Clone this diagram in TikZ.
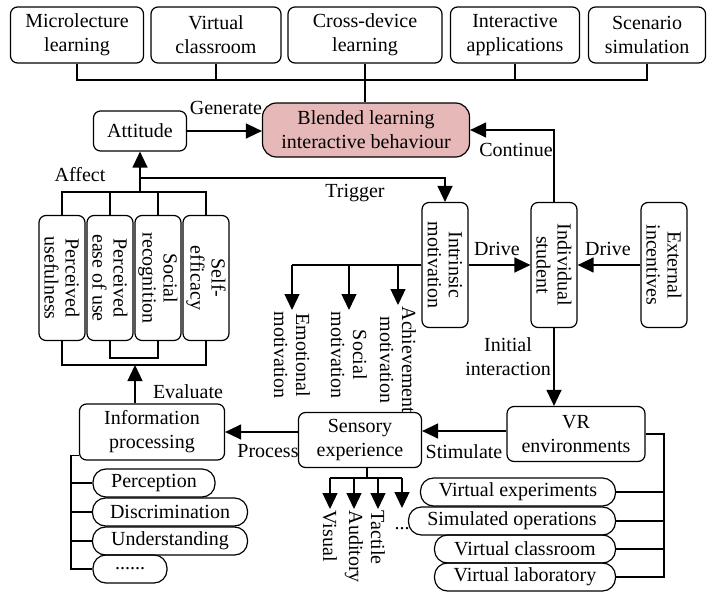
\documentclass[tikz,border=0pt]{standalone}
\usepackage{fontspec}
\setmainfont{Liberation Serif}
\usetikzlibrary{arrows.meta}
\definecolor{blendpink}{HTML}{E6B9B8}
\tikzset{
  box/.style={draw, rounded corners=7pt, line width=1.2pt, align=center, inner sep=1.5pt},
  topbox/.style={box, minimum height=56pt},
  vbox/.style={box, rotate=-90, minimum width=125pt, minimum height=46pt, font=\fontsize{20}{21}\selectfont},
  pill/.style={draw, rounded corners=13pt, line width=1.2pt, inner sep=0pt, minimum height=28pt},
  arr/.style={-{Triangle[length=16pt,width=15pt]}},
  lbl/.style={inner sep=1pt, align=center},
  rlbl/.style={lbl, rotate=-90, anchor=west, font=\fontsize{20}{22}\selectfont},
}

\begin{document}
\begin{tikzpicture}[x=1pt, y=-1pt, line width=1.3pt, font=\fontsize{20}{24}\selectfont]
\useasboundingbox (0,0) rectangle (708,591);

\node[topbox, minimum width=133pt] (micro) at (77,35) {Microlecture\\learning};
\node[topbox, minimum width=130pt] (vclass) at (216,35) {Virtual\\classroom};
\node[topbox, minimum width=154pt] (cross) at (365,35) {Cross-device\\learning};
\node[topbox, minimum width=129pt] (iapp) at (515,35) {Interactive\\applications};
\node[topbox, minimum width=117pt] (scen) at (647,35) {Scenario\\simulation};

\node[box, fill=blendpink, rounded corners=14pt, minimum width=207pt, minimum height=54pt] (blend) at (366,130) {Blended learning\\interactive behaviour};
\node[box, minimum width=93pt, minimum height=40pt] (att) at (140,131) {Attitude};

\node[vbox] (pu) at (62,278) {Perceived\\usefulness};
\node[vbox] (pe) at (110,278) {Perceived\\ease of use};
\node[vbox] (sr) at (158,278) {Social\\recognition};
\node[vbox] (se) at (206,278) {Self-\\efficacy};

\node[vbox] (intr) at (445,265) {Intrinsic\\motivation};
\node[vbox] (indiv) at (554,265) {Individual\\student};
\node[vbox] (ext) at (664,265) {External\\incentives};

\node[box, minimum width=145pt, minimum height=56pt] (info) at (152,432) {Information\\processing};
\node[box, minimum width=123pt, minimum height=55pt] (sens) at (360,440) {Sensory\\experience};
\node[box, minimum width=138pt, minimum height=55pt] (vr) at (576,434) {VR\\environments};

\node[pill, minimum width=122pt] (perc) at (154,483) {Perception};
\node[pill, minimum width=155pt] (disc) at (170,512) {Discrimination};
\node[pill, minimum width=155pt] (und) at (170,541) {Understanding};
\node[pill, minimum width=74pt] (more) at (130,569) {......};

\node[pill, minimum width=195pt] (vexp) at (518,492) {Virtual experiments};
\node[pill, minimum width=207pt] (simop) at (512,521) {Simulated operations};
\node[pill, minimum width=181pt] (vcr) at (525,549) {Virtual classroom};
\node[pill, minimum width=181pt] (vlab) at (525,577) {Virtual laboratory};

\node[lbl] (gen) at (226,108) {Generate};
\node[lbl] (cont) at (516,150) {Continue};
\node[lbl] (aff) at (80,175) {Affect};
\node[lbl] (trig) at (355,193) {Trigger};
\node[lbl] (drv1) at (497,249) {Drive};
\node[lbl] (drv2) at (608,249) {Drive};
\node[lbl] (ini) at (508,357) {Initial\\interaction};
\node[lbl] (eval) at (188,392) {Evaluate};
\node[lbl] (proc) at (268,451) {Process};
\node[lbl] (stim) at (464,452) {Stimulate};

\node[rlbl] (emo) at (292,310) {Emotional\\motivation};
\node[rlbl] (soc) at (349,310) {Social\\motivation};
\node[rlbl] (ach) at (398,305) {Achievement\\motivation};

\node[rlbl] (vis) at (330,509) {Visual};
\node[rlbl] (aud) at (354,509) {Auditory};
\node[rlbl] (tac) at (378,509) {Tactile};
\node[lbl, anchor=north, text height=20pt, text depth=0pt] (etc) at (402,508) {...};

\coordinate (topbus) at (366,80);
\draw (micro.south) |- (topbus) -| (scen.south);
\draw (vclass.south) -- (vclass.south |- topbus);
\draw (iapp.south) -- (iapp.south |- topbus);
\draw (cross.south) -- (cross.south |- blend.north);

\draw[arr] (att.east) -- (att.east -| blend.west);
\draw[arr] (indiv.west) |- (blend.east);

\coordinate (affbus) at (140,192);
\coordinate (trigpt) at (140,178);
\draw (pu.west) |- (affbus) -| (se.west);
\draw (pe.west) -- (pe.west |- affbus);
\draw (sr.west) -- (sr.west |- affbus);
\draw[arr] (affbus) -- (att.south);
\draw[arr] (trigpt) -| (intr.west);

\coordinate (evalbus) at (135,365);
\draw (pu.east) |- (evalbus) -| (se.east);
\draw (pe.east) -- ++(0,17) -| (sr.east);
\draw[arr] (info.north -| evalbus) -- (evalbus);

\draw[arr] (intr.north) -- (indiv.south);
\draw[arr] (ext.south) -- (indiv.north);
\draw[arr] (indiv.east) -- (indiv.east |- vr.north);

\draw (intr.south) -- (intr.south -| emo.west);
\draw[arr] (emo.west |- intr.south) -- (emo.west);
\draw[arr] (soc.west |- intr.south) -- (soc.west);
\draw[arr] (ach.west |- intr.south) -- (ach.west);

\draw[arr] ([yshift=3pt]vr.west) -- ([yshift=3pt]vr.west -| sens.east);
\draw[arr] (sens.west |- info.east) -- (info.east);

\coordinate (sensbus) at (367,478);
\draw (sens.south -| sensbus) -- (sensbus);
\draw (vis.west |- sensbus) -- (etc.north |- sensbus);
\draw[arr] (vis.west |- sensbus) -- (vis.west);
\draw[arr] (aud.west |- sensbus) -- (aud.west);
\draw[arr] (tac.west |- sensbus) -- (tac.west);
\draw[arr] (etc.north |- sensbus) -- (etc.north);

\coordinate (vrbus) at (664,433);
\draw (vr.east) -| (vrbus |- vlab.east) -- (vlab.east);
\draw (vexp.east) -- (vexp.east -| vrbus);
\draw (simop.east) -- (simop.east -| vrbus);
\draw (vcr.east) -- (vcr.east -| vrbus);

\coordinate (infobus) at (71,455);
\draw ([yshift=5pt]info.south west) -| (infobus |- more.west) -- (more.west);
\draw (infobus |- perc.west) -- (perc.west);
\draw (infobus |- disc.west) -- (disc.west);
\draw (infobus |- und.west) -- (und.west);
\end{tikzpicture}
\end{document}
